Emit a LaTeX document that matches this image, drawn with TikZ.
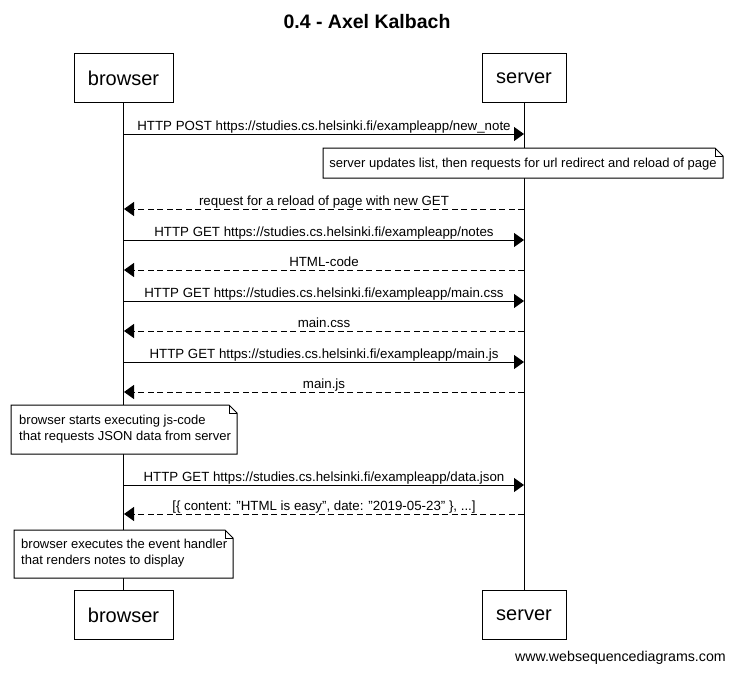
\documentclass[tikz,border=0pt]{standalone}
\usepackage{fontspec}
\setmainfont{Liberation Sans}
\usetikzlibrary{arrows.meta}
\begin{document}
\begin{tikzpicture}[x=1pt,y=-1pt,
  actor/.style={draw,line width=1pt,minimum height=49pt,inner sep=0pt,font=\fontsize{20}{24}\selectfont},
  lifeline/.style={line width=1pt},
  msg/.style={line width=1pt,-{Triangle[length=10pt,width=14pt]}},
  ret/.style={msg,dash pattern=on 6pt off 3.5pt},
  lbl/.style={font=\fontsize{13.3}{15}\selectfont,inner sep=0pt,anchor=base},
  notetext/.style={font=\fontsize{13}{16}\selectfont,inner sep=0pt,align=left},
  notebox/.style={draw,line width=1pt,fill=white}
]
\useasboundingbox (0,0) rectangle (734,673);
% title
\node[font=\bfseries\fontsize{19.5}{22}\selectfont] (title) at (367,22) {0.4 - Axel Kalbach};
% actors
\node[actor,minimum width=99pt] (bt) at (123.5,78) {browser};
\node[actor,minimum width=84pt] (st) at (524,78) {server};
\node[actor,minimum width=99pt] (bb) at (123.5,615) {browser};
\node[actor,minimum width=84pt] (sb) at (524,615) {server};
\draw[lifeline] (bt.south) -- (bb.north);
\draw[lifeline] (st.south) -- (sb.north);
% message end points
\foreach \n/\y in {1/134,2/209,3/240,4/270,5/301,6/331,7/362,8/392,9/485,10/514}{
  \coordinate (b\n) at (124,\y);
  \coordinate (s\n) at (524,\y);
}
\draw[msg] (b1) -- (s1) node[lbl,midway,yshift=4pt] {HTTP POST https://studies.cs.helsinki.fi/exampleapp/new\_note};
% note 1
\draw[notebox] (323,148) -- (715,148) -- (723,156) -- (723,178) -- (323,178) -- cycle;
\draw[line width=1pt] (715,148) -- (715,156) -- (723,156);
\node[notetext] (n1) at (523,164) {server updates list, then requests for url redirect and reload of page};
\draw[ret] (s2) -- (b2) node[lbl,midway,yshift=4pt] {request for a reload of page with new GET};
\draw[msg] (b3) -- (s3) node[lbl,midway,yshift=4pt] {HTTP GET https://studies.cs.helsinki.fi/exampleapp/notes};
\draw[ret] (s4) -- (b4) node[lbl,midway,yshift=4pt] {HTML-code};
\draw[msg] (b5) -- (s5) node[lbl,midway,yshift=4pt] {HTTP GET https://studies.cs.helsinki.fi/exampleapp/main.css};
\draw[ret] (s6) -- (b6) node[lbl,midway,yshift=4pt] {main.css};
\draw[msg] (b7) -- (s7) node[lbl,midway,yshift=4pt] {HTTP GET https://studies.cs.helsinki.fi/exampleapp/main.js};
\draw[ret] (s8) -- (b8) node[lbl,midway,yshift=4pt] {main.js};
% note 2
\draw[notebox] (11,405) -- (229,405) -- (237,413) -- (237,454) -- (11,454) -- cycle;
\draw[line width=1pt] (229,405) -- (229,413) -- (237,413);
\node[notetext,anchor=west] (n2) at (19,429.5) {browser starts executing js-code\\that requests JSON data from server};
\draw[msg] (b9) -- (s9) node[lbl,midway,yshift=4pt] {HTTP GET https://studies.cs.helsinki.fi/exampleapp/data.json};
\draw[ret] (s10) -- (b10) node[lbl,midway,yshift=4pt] {[\{ content: \char34 HTML is easy\char34, date: \char34 2019-05-23\char34\ \}, ...]};
% note 3
\draw[notebox] (14,530) -- (225,530) -- (233,538) -- (233,578) -- (14,578) -- cycle;
\draw[line width=1pt] (225,530) -- (225,538) -- (233,538);
\node[notetext,anchor=west] (n3) at (21,553.5) {browser executes the event handler\\that renders notes to display};
% footer
\node[font=\fontsize{14.2}{16}\selectfont,anchor=east,inner sep=0pt] (foot) at (726,658) {www.websequencediagrams.com};
\end{tikzpicture}
\end{document}
